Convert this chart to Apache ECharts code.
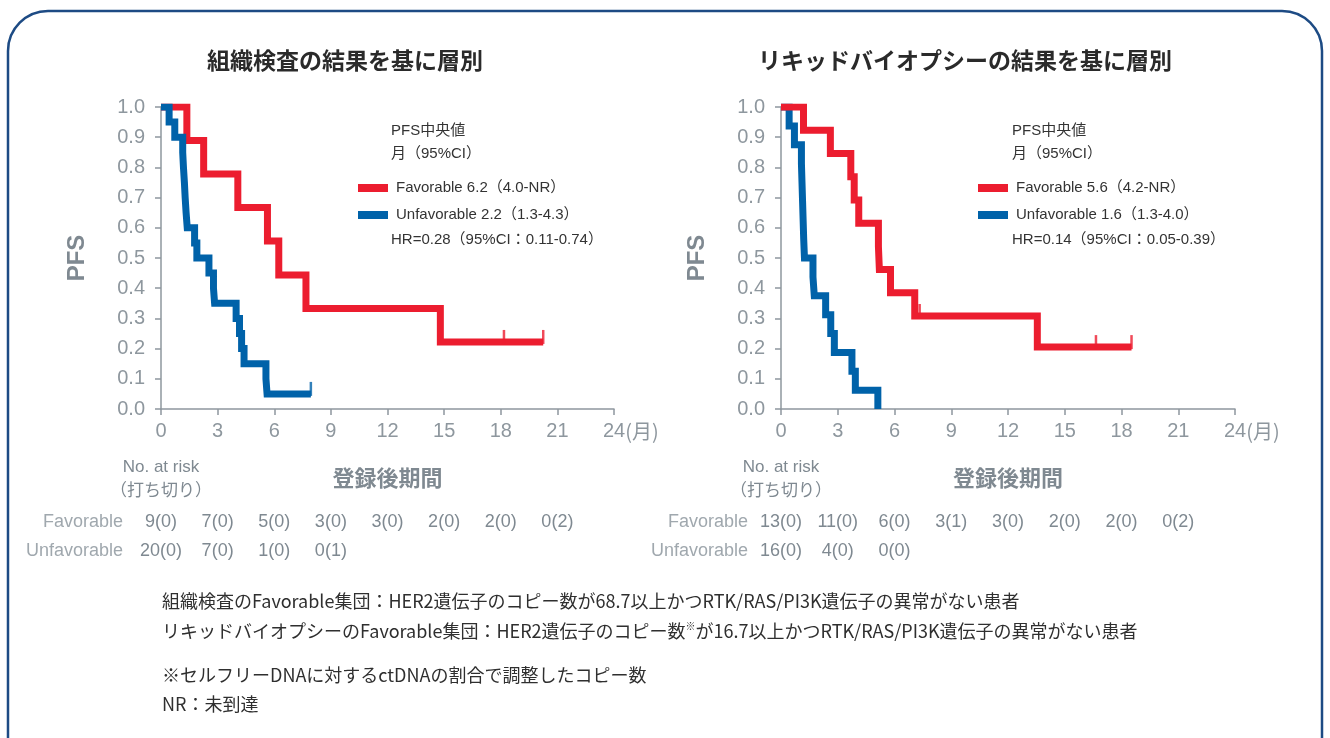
<!DOCTYPE html>
<html lang="ja">
<head>
<meta charset="utf-8">
<title>PFS 層別解析</title>
<script src="https://cdn.jsdelivr.net/npm/echarts@6/dist/echarts.min.js"></script>
<style>
  html, body { margin: 0; padding: 0; background: #fff; }
  #chart { width: 1330px; height: 738px; }
</style>
</head>
<body>
<div id="chart"></div>
<script>
// ---- Data: Kaplan-Meier steps (months, PFS) ----
const tissueFavT   = [0, 1.37, 2.26, 4.07, 5.64, 6.24, 7.68, 14.8, 20.25];
const tissueFavS   = [1, 0.889, 0.778, 0.667, 0.556, 0.444, 0.333, 0.222, 0.222];
const tissueFavCensT = [18.17, 20.25];
const tissueFavCensS = [0.222, 0.222];

const tissueUnfT   = [0, 0.43, 0.73, 1.15, 1.19, 1.24, 1.28, 1.33, 1.39, 1.78, 1.9, 2.54, 2.78, 2.84, 3.98, 4.16, 4.27, 4.4, 5.56, 5.62, 7.94];
const tissueUnfS   = [1, 0.95, 0.9, 0.85, 0.8, 0.75, 0.7, 0.65, 0.6, 0.55, 0.5, 0.45, 0.4, 0.35, 0.3, 0.25, 0.2, 0.15, 0.1, 0.05, 0.05];
const tissueUnfCensT = [7.94];
const tissueUnfCensS = [0.05];

const liquidFavT   = [0, 1.19, 2.61, 3.69, 3.87, 4.11, 5.15, 5.2, 5.79, 7.07, 13.55, 18.53];
const liquidFavS   = [1, 0.923, 0.846, 0.769, 0.692, 0.615, 0.538, 0.462, 0.385, 0.308, 0.205, 0.205];
const liquidFavCensT = [7.33, 16.65, 18.53];
const liquidFavCensS = [0.308, 0.205, 0.205];

const liquidUnfT   = [0, 0.43, 0.71, 1.08, 1.11, 1.14, 1.17, 1.2, 1.24, 1.69, 1.76, 2.36, 2.63, 2.82, 3.75, 3.93, 5.12];
const liquidUnfS   = [1, 0.9375, 0.875, 0.8125, 0.75, 0.6875, 0.625, 0.5625, 0.5, 0.4375, 0.375, 0.3125, 0.25, 0.1875, 0.125, 0.0625, 0];

// ---- Axis ticks and number-at-risk rows ----
const riskMonths = [0, 3, 6, 9, 12, 15, 18, 21];
const tissueRiskFav = ['9(0)', '7(0)', '5(0)', '3(0)', '3(0)', '2(0)', '2(0)', '0(2)'];
const tissueRiskUnf = ['20(0)', '7(0)', '1(0)', '0(1)'];
const liquidRiskFav = ['13(0)', '11(0)', '6(0)', '3(1)', '3(0)', '2(0)', '2(0)', '0(2)'];
const liquidRiskUnf = ['16(0)', '4(0)', '0(0)'];

// ---- Labels ----
const panelTitles = ['組織検査の結果を基に層別', 'リキッドバイオプシーの結果を基に層別'];
const tissueNames = ['Favorable 6.2（4.0-NR）', 'Unfavorable 2.2（1.3-4.3）'];
const liquidNames = ['Favorable 5.6（4.2-NR）', 'Unfavorable 1.6（1.3-4.0）'];
const hrTexts = ['HR=0.28（95%CI：0.11-0.74）', 'HR=0.14（95%CI：0.05-0.39）'];

const RED = '#ec1d2f';
const BLUE = '#0062a9';
const AXIS = '#8e979e';
const GREY = '#7f8991';
const LATIN = "'Liberation Sans', 'Noto Sans CJK JP', sans-serif";
const CJK = "'Noto Sans CJK JP', 'Liberation Sans', sans-serif";

const zip = (t, s) => t.map((v, i) => [v, s[i]]);

function mainX(gi) {
  return {
    gridIndex: gi, type: 'value', min: 0, max: 24, interval: 3,
    axisLine: { lineStyle: { color: AXIS, width: 1.5 } },
    axisTick: { length: 6, lineStyle: { color: AXIS, width: 1.5 } },
    splitLine: { show: false },
    axisLabel: {
      margin: 12, fontSize: 20, color: AXIS, fontFamily: LATIN,
      formatter: v => v === 24 ? '{p|}{n|24}{u|(月)}' : String(v),
      rich: {
        p: { width: 34 },
        n: { fontSize: 20, color: AXIS, fontFamily: LATIN },
        u: { fontSize: 20, color: AXIS, fontFamily: CJK, width: 34 }
      }
    },
    name: '登録後期間', nameLocation: 'middle', nameGap: 58,
    nameTextStyle: { fontSize: 22, fontWeight: 'bold', color: GREY, fontFamily: CJK }
  };
}

function riskX(gi, offset, row) {
  return {
    gridIndex: gi, type: 'value', min: 0, max: 24, interval: 3,
    position: 'bottom', offset: offset,
    axisLine: { show: false }, axisTick: { show: false }, splitLine: { show: false },
    axisLabel: {
      margin: 8, fontSize: 18, color: GREY, fontFamily: LATIN,
      formatter: v => { const i = riskMonths.indexOf(v); return i >= 0 && row[i] ? row[i] : ''; }
    }
  };
}

function mainY(gi) {
  return {
    gridIndex: gi, type: 'value', min: 0, max: 1, interval: 0.1,
    axisLine: { show: true, lineStyle: { color: AXIS, width: 1.5 } },
    axisTick: { show: true, length: 6, lineStyle: { color: AXIS, width: 1.5 } },
    splitLine: { show: false },
    axisLabel: { margin: 16, fontSize: 20, color: AXIS, fontFamily: LATIN, formatter: v => v.toFixed(1) },
    name: 'PFS', nameLocation: 'middle', nameGap: 72,
    nameTextStyle: { fontSize: 24, fontWeight: 'bold', color: GREY, fontFamily: LATIN }
  };
}

function kmLine(name, xi, t, s, color, z) {
  return {
    name, type: 'line', xAxisIndex: xi, yAxisIndex: xi === 0 ? 0 : 1,
    step: 'end', showSymbol: false, symbol: 'none', z,
    lineStyle: { color, width: 7, cap: 'butt', join: 'miter' },
    itemStyle: { color },
    data: zip(t, s)
  };
}

function censor(xi, t, s, color, z) {
  return {
    type: 'scatter', xAxisIndex: xi, yAxisIndex: xi === 0 ? 0 : 1, z,
    symbol: 'rect', symbolSize: [2.5, 14], symbolOffset: [0, -5],
    itemStyle: { color }, silent: true,
    data: zip(t, s)
  };
}

function text(x, y, str, opts) {
  return {
    type: 'text', x, y,
    style: Object.assign({
      text: str, fontSize: 15, fill: '#333', fontFamily: LATIN,
      align: 'left', verticalAlign: 'middle'
    }, opts || {})
  };
}

const chart = echarts.init(document.getElementById('chart'), null, { renderer: 'canvas' });

const legendCommon = {
  orient: 'vertical', itemWidth: 30, itemHeight: 8, itemGap: 9,
  icon: 'rect', selectedMode: false,
  textStyle: { fontSize: 15, color: '#333', fontFamily: LATIN, lineHeight: 18, padding: [0, 0, 0, 3] }
};

const NOTE = { fontSize: 18, fill: '#2f2f2f', fontFamily: CJK };

chart.setOption({
  animation: false,
  backgroundColor: '#ffffff',
  title: [
    { text: panelTitles[0], left: 340, top: 44, textAlign: 'center',
      textStyle: { fontSize: 23, fontWeight: 'bold', color: '#2a2a2a', fontFamily: CJK } },
    { text: panelTitles[1], left: 960, top: 44, textAlign: 'center',
      textStyle: { fontSize: 23, fontWeight: 'bold', color: '#2a2a2a', fontFamily: CJK } }
  ],
  legend: [
    Object.assign({ data: tissueNames, left: 353, top: 174 }, legendCommon),
    Object.assign({ data: liquidNames, left: 973, top: 174 }, legendCommon)
  ],
  grid: [
    { left: 161, top: 107, width: 453, height: 302 },
    { left: 781, top: 107, width: 454, height: 302 }
  ],
  xAxis: [
    mainX(0), mainX(1),
    riskX(0, 96, tissueRiskFav), riskX(0, 125, tissueRiskUnf),
    riskX(1, 96, liquidRiskFav), riskX(1, 125, liquidRiskUnf)
  ],
  yAxis: [mainY(0), mainY(1)],
  series: [
    kmLine(tissueNames[0], 0, tissueFavT, tissueFavS, RED, 2),
    kmLine(tissueNames[1], 0, tissueUnfT, tissueUnfS, BLUE, 3),
    censor(0, tissueFavCensT, tissueFavCensS, RED, 2),
    censor(0, tissueUnfCensT, tissueUnfCensS, BLUE, 3),
    kmLine(liquidNames[1], 1, liquidUnfT, liquidUnfS, BLUE, 2),
    kmLine(liquidNames[0], 1, liquidFavT, liquidFavS, RED, 3),
    censor(1, liquidFavCensT, liquidFavCensS, RED, 3)
  ],
  graphic: [
    // rounded frame around the figure
    { type: 'rect', shape: { x: 8, y: 11, width: 1314, height: 820, r: 40 },
      style: { fill: 'none', stroke: '#1d4b84', lineWidth: 2.5 }, z: -1 },

    // legend headers and hazard ratios
    text(391, 131, 'PFS中央値'), text(391, 154, '月（95%CI）'), text(391, 240, hrTexts[0]),
    text(1012, 131, 'PFS中央値'), text(1012, 154, '月（95%CI）'), text(1012, 240, hrTexts[1]),

    // number-at-risk captions
    text(161, 467, 'No. at risk', { align: 'center', fontSize: 17, fill: GREY }),
    text(161, 490, '（打ち切り）', { align: 'center', fontSize: 17, fill: GREY, fontFamily: CJK }),
    text(781, 467, 'No. at risk', { align: 'center', fontSize: 17, fill: GREY }),
    text(781, 490, '（打ち切り）', { align: 'center', fontSize: 17, fill: GREY, fontFamily: CJK }),
    text(123, 522, 'Favorable', { align: 'right', fontSize: 18, fill: '#a0a8ae' }),
    text(123, 551, 'Unfavorable', { align: 'right', fontSize: 18, fill: '#a0a8ae' }),
    text(748, 522, 'Favorable', { align: 'right', fontSize: 18, fill: '#a0a8ae' }),
    text(748, 551, 'Unfavorable', { align: 'right', fontSize: 18, fill: '#a0a8ae' }),

    // footnotes
    text(162, 601, '組織検査のFavorable集団：HER2遺伝子のコピー数が68.7以上かつRTK/RAS/PI3K遺伝子の異常がない患者', NOTE),
    { type: 'text', x: 162, y: 631,
      style: {
        text: '{t|リキッドバイオプシーのFavorable集団：HER2遺伝子のコピー数}{s|※}{t|が16.7以上かつRTK/RAS/PI3K遺伝子の異常がない患者}',
        verticalAlign: 'middle', align: 'left',
        rich: {
          t: NOTE,
          s: { fontSize: 10, fill: '#2f2f2f', fontFamily: CJK, verticalAlign: 'top', padding: [0, 0, 9, 0] }
        }
      } },
    text(162, 675, '※セルフリーDNAに対するctDNAの割合で調整したコピー数', NOTE),
    text(162, 704, 'NR：未到達', NOTE)
  ]
});
</script>
</body>
</html>
